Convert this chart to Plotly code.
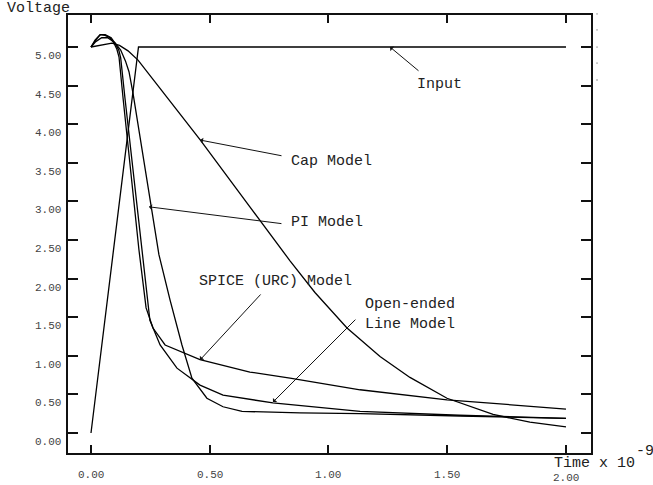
import plotly.graph_objects as go

# ---------------- data ----------------
input_t = [0.0, 0.2, 2.0]
input_v = [0.0, 5.0, 5.0]

cap_t = [0.0, 0.045, 0.088, 0.12, 0.156, 0.198, 0.291, 0.459, 0.669, 0.838, 0.943, 1.078, 1.217, 1.343, 1.499, 1.693, 1.848, 2.0]
cap_v = [5.0, 5.03, 5.05, 5.02, 4.95, 4.83, 4.46, 3.80, 2.93, 2.23, 1.82, 1.36, 0.99, 0.72, 0.45, 0.24, 0.14, 0.08]

spice_t = [0.0, 0.017, 0.038, 0.059, 0.08, 0.097, 0.109, 0.118, 0.135, 0.202, 0.232, 0.261, 0.312, 0.459, 0.669, 0.838, 1.133, 1.499, 2.0]
spice_v = [5.0, 5.09, 5.16, 5.15, 5.12, 5.05, 4.97, 4.87, 4.34, 2.37, 1.62, 1.36, 1.14, 0.95, 0.79, 0.71, 0.56, 0.43, 0.31]

open_t = [0.0, 0.02, 0.04, 0.06, 0.085, 0.103, 0.117, 0.125, 0.143, 0.215, 0.248, 0.291, 0.362, 0.459, 0.556, 0.766, 1.133, 1.55, 2.0]
open_v = [5.0, 5.09, 5.16, 5.16, 5.12, 5.04, 4.96, 4.86, 4.34, 2.37, 1.46, 1.14, 0.84, 0.62, 0.49, 0.39, 0.28, 0.23, 0.19]

pi_t = [0.0, 0.02, 0.045, 0.07, 0.10, 0.125, 0.145, 0.16, 0.177, 0.286, 0.333, 0.383, 0.425, 0.488, 0.556, 0.636, 0.88, 1.133, 1.554, 2.0]
pi_v = [5.0, 5.07, 5.12, 5.12, 5.06, 4.96, 4.82, 4.68, 4.40, 2.31, 1.72, 1.14, 0.71, 0.45, 0.34, 0.28, 0.26, 0.25, 0.22, 0.19]

x_ticks = [0.0, 0.5, 1.0, 1.5, 2.0]
x_tick_labels = ["0.00", "0.50", "1.00", "1.50", "2.00"]
y_ticks = [0.0, 0.5, 1.0, 1.5, 2.0, 2.5, 3.0, 3.5, 4.0, 4.5, 5.0]
y_tick_labels = ["0.00", "0.50", "1.00", "1.50", "2.00", "2.50", "3.00", "3.50", "4.00", "4.50", "5.00"]

# curve labels: (text, arrow-tip t, arrow-tip v, tail dx px, tail dy px, text t, text v, anchor)
labels = [
    ("Input", 1.259, 5.0, 30, 25, 1.469, 4.52, "center"),
    ("Cap Model", 0.459, 3.795, 83, 16, 1.011, 3.523, "center"),
    ("PI Model", 0.244, 2.93, 134, 17, 0.994, 2.733, "center"),
    ("SPICE (URC) Model", 0.459, 0.946, 62, -67, 0.775, 1.969, "center"),
    ("Open-ended<br>Line Model", 0.766, 0.40, 84, -84, 1.145, 1.541, "left"),
]

FONT = "Liberation Mono, Courier New, monospace"
LINE = dict(color="black", width=1.3)

fig = go.Figure()
for t, v in [(input_t, input_v), (cap_t, cap_v), (pi_t, pi_v), (spice_t, spice_v), (open_t, open_v)]:
    fig.add_trace(go.Scatter(x=t, y=v, mode="lines", line=LINE, showlegend=False, hoverinfo="skip"))

ann = []
for text, xt, yt, dx, dy, tx, ty, anc in labels:
    ann.append(dict(x=xt, y=yt, xref="x", yref="y", text="", showarrow=True,
                    ax=dx, ay=dy, arrowhead=1, arrowsize=1, arrowwidth=1, arrowcolor="#111"))
    ann.append(dict(x=tx, y=ty, xref="x", yref="y", text=text, showarrow=False,
                    xanchor=anc, yanchor="middle", align="left",
                    font=dict(family=FONT, size=15, color="#222")))

# tick labels (offset below the tick, as in the original)
for v, lab in zip(y_ticks, y_tick_labels):
    ann.append(dict(x=0, y=v, xref="paper", yref="y", text=lab, showarrow=False,
                    xanchor="right", yanchor="middle", xshift=-5, yshift=-9,
                    font=dict(family=FONT, size=11, color="#444")))
for v, lab in zip(x_ticks, x_tick_labels):
    ann.append(dict(x=v, y=0, xref="x", yref="paper", text=lab, showarrow=False,
                    xanchor="center", yanchor="middle", yshift=-22 if v < 2 else -25,
                    font=dict(family=FONT, size=11, color="#444")))

ann.append(dict(x=0, y=1, xref="paper", yref="paper", text="Voltage", showarrow=False,
                xanchor="left", yanchor="middle", xshift=-63, yshift=7,
                font=dict(family=FONT, size=15, color="#222")))
ann.append(dict(x=1.0076, y=0, xref="paper", yref="paper", text="Time x 10", showarrow=False,
                xanchor="center", yanchor="middle", yshift=-10,
                font=dict(family=FONT, size=15, color="#222")))
ann.append(dict(x=1.103, y=0, xref="paper", yref="paper", text="-9", showarrow=False,
                xanchor="center", yanchor="middle", yshift=2,
                font=dict(family=FONT, size=15, color="#222")))

shapes = []
for yp in [1.0023, 0.9658, 0.9269, 0.8904, 0.8516]:
    shapes.append(dict(type="rect", xref="paper", yref="paper", x0=1.0105, x1=1.0125,
                       y0=yp - 0.002, y1=yp + 0.002, line=dict(width=0), fillcolor="#999"))

axis_common = dict(showgrid=False, zeroline=False, showline=True, linecolor="#111", linewidth=1.5,
                   mirror="ticks", ticks="inside", ticklen=10, tickwidth=1.5, tickcolor="#111",
                   showticklabels=False)

fig.update_layout(
    width=653, height=485,
    margin=dict(l=68, r=62, t=15, b=32),
    paper_bgcolor="white", plot_bgcolor="white",
    xaxis=dict(range=[-0.0968, 2.1053], tickvals=x_ticks, **axis_common),
    yaxis=dict(range=[-0.259, 5.4145], tickvals=y_ticks, **axis_common),
    annotations=ann, shapes=shapes,
)
fig.update_xaxes(ticklen=8)

fig.write_html("out.html")
